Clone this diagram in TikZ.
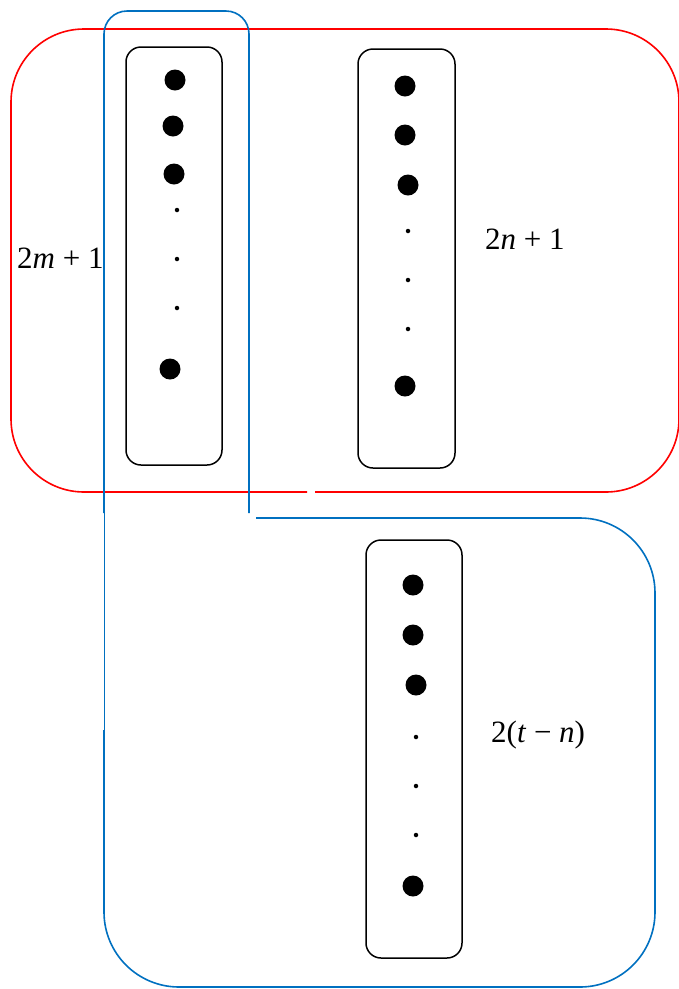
\documentclass[tikz,border=0pt]{standalone}
\usepackage{fontspec}
\setmainfont{Liberation Serif}
\definecolor{boxred}{RGB}{255,0,0}
\definecolor{boxblue}{RGB}{0,112,192}
\begin{document}
\begin{tikzpicture}[x=1pt,y=-1pt,
  redline/.style={draw=boxred,line width=1.6pt},
  blueline/.style={draw=boxblue,line width=1.6pt},
  setbox/.style={draw=black,line width=1.5pt,rounded corners=15pt},
  bigdot/.style={circle,fill=black,inner sep=0pt,minimum size=21pt},
  smalldot/.style={circle,fill=black,inner sep=0pt,minimum size=4.5pt},
  lab/.style={inner sep=0pt,anchor=base west,font=\fontsize{31}{36}\selectfont}]
\useasboundingbox (0,0) rectangle (679,989);
% red box (gap in the bottom side)
\draw[redline,rounded corners=73pt] (307,492) -- (11,492) -- (11,29) -- (679,29) -- (679,492) -- (315,492);
% upper blue box (open at bottom)
\draw[blueline,rounded corners=23pt] (104,513) -- (104,11) -- (249,11) -- (249,513);
% lower blue box
\draw[blueline,rounded corners=75pt] (256,518) -- (655,518) -- (655,987) -- (104,987) -- (104,730);
\draw[draw=boxblue,line width=0.8pt] (104,730) -- (104,513);
% set boxes
\draw[setbox] (126,47) rectangle (222,465);
\draw[setbox] (358,49) rectangle (455,468);
\draw[setbox] (366,540) rectangle (462,958);
% dots box 1
\node[bigdot] (a1) at (175,80) {};
\node[bigdot] (a2) at (173,126) {};
\node[bigdot] (a3) at (174,174) {};
\node[smalldot] (a4) at (177,210) {};
\node[smalldot] (a5) at (177,259) {};
\node[smalldot] (a6) at (177,308) {};
\node[bigdot] (a7) at (170,369) {};
% dots box 2
\node[bigdot] (b1) at (405,86) {};
\node[bigdot] (b2) at (405,135) {};
\node[bigdot] (b3) at (408,185) {};
\node[smalldot] (b4) at (408,231) {};
\node[smalldot] (b5) at (408,280) {};
\node[smalldot] (b6) at (408,329) {};
\node[bigdot] (b7) at (405,386) {};
% dots box 3
\node[bigdot] (c1) at (413,585) {};
\node[bigdot] (c2) at (413,635) {};
\node[bigdot] (c3) at (416,685) {};
\node[smalldot] (c4) at (416,737) {};
\node[smalldot] (c5) at (416,786) {};
\node[smalldot] (c6) at (416,835) {};
\node[bigdot] (c7) at (413,886) {};
% labels
\node[lab] (lm) at (17,268) {2\textit{m} + 1};
\node[lab] (ln) at (485,249) {2\textit{n} + 1};
\node[lab] (lt) at (491,742) {2(\textit{t} − \textit{n})};
\end{tikzpicture}
\end{document}
